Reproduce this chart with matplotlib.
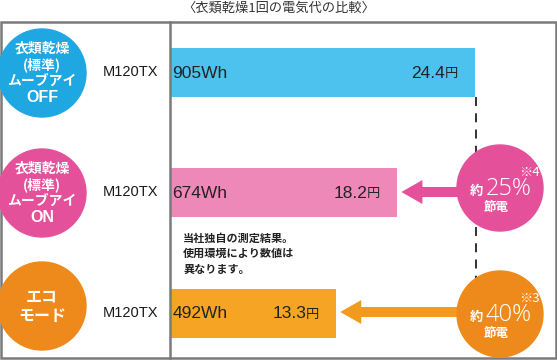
import matplotlib
matplotlib.use("Agg")
import matplotlib.pyplot as plt
import matplotlib.patches as mpatches

# ---- data ----
modes = ["衣類乾燥\n(標準)\nムーブアイ\nOFF", "衣類乾燥\n(標準)\nムーブアイ\nON", "エコ\nモード"]
model = ["M120TX", "M120TX", "M120TX"]
energy_wh = [905, 674, 492]
cost_yen = [24.4, 18.2, 13.3]
savings = ["25%", "40%"]
notes = ["※4", "※3"]
title = "〈衣類乾燥1回の電気代の比較〉"
footnote = ["当社独自の測定結果。", "使用環境により数値は", "異なります。"]

circle_cols = ["#1EA7E1", "#E4519A", "#EE8A1B"]
bar_cols = ["#4EC2EF", "#EE88B8", "#F5A424"]
arrow_cols = ["#E4519A", "#F29A1E"]

JP = ["Noto Sans CJK JP", "DejaVu Sans"]
LAT = ["Liberation Sans", "DejaVu Sans"]

W, H = 557, 360
fig = plt.figure(figsize=(W / 100, H / 100), dpi=100)

# bar axes: x=0 at pixel 171, 905 at pixel 475
x0, x1 = 171, 475
scale = (x1 - x0) / energy_wh[0]
ax = fig.add_axes([x0 / W, 0, (W - x0) / W, 1])
ax.set_xlim(0, (W - x0) / scale)
ax.set_ylim(H, 0)
ax.axis("off")
ax.set_zorder(1)

deco = fig.add_axes([0, 0, 1, 1])
deco.set_xlim(0, W)
deco.set_ylim(H, 0)
deco.axis("off")
deco.set_zorder(2)
deco.patch.set_alpha(0)

rows_y = [72.5, 192.5, 313]
bar_h = 49

# frame
deco.add_patch(mpatches.Rectangle((1, 22), 555, 336, fill=False, ec="#7a7a7a", lw=1.8, zorder=1))
deco.plot([170, 170], [22, 358], color="#7a7a7a", lw=1.8, zorder=1)
deco.text(W / 2, 8, title, ha="center", va="center", fontsize=9.5, family=JP, color="#333333")

bars = ax.barh(rows_y, energy_wh, height=bar_h, left=0, color=bar_cols, zorder=2)

def to_deco(xd, yd):
    px = ax.transData.transform((xd, yd))
    return deco.transData.inverted().transform(px)

for i, (m, mdl, wh, yen) in enumerate(zip(modes, model, energy_wh, cost_yen)):
    y = rows_y[i]
    # left circle
    r = 44
    cy = [73, 193, 306][i]
    deco.add_patch(mpatches.Circle((42, cy), r, color=circle_cols[i], zorder=3))
    lines = m.split("\n")
    nlines = len(lines)
    spacing = 16.5 if nlines > 2 else 19
    for k, ln in enumerate(lines):
        yy = cy + (k - (nlines - 1) / 2) * spacing
        fam = LAT if ln in ("OFF", "ON") else JP
        fs = 11.5 if ln in ("OFF", "ON") else (10 if nlines > 2 else 11.5)
        deco.text(42, yy, ln, ha="center", va="center", color="white",
                  fontsize=fs, family=fam, fontweight="bold", zorder=4)
    deco.text(130, y, mdl, ha="center", va="center", fontsize=10.5, family=LAT,
              color="#1a1a1a", zorder=4)
    # bar labels
    ax.text(1.5 / scale, y + 1, f"{wh}Wh", ha="left", va="center", fontsize=12.5,
            family=LAT, color="#222222", zorder=4)
    endx, _ = to_deco(wh, y)
    deco.text(endx - 17, y + 1.5, "円", ha="right", va="center", fontsize=9.5,
              family=JP, color="#222222", zorder=4)
    deco.text(endx - 30, y + 1, f"{yen}", ha="right", va="center", fontsize=12.5,
              family=LAT, color="#222222", zorder=4)

# dashed reference line
deco.plot([476, 476], [97, 278], color="#222222", lw=1.3, ls=(0, (5, 4)), zorder=1.5)

# footnote
for k, ln in enumerate(footnote):
    deco.text(183, 238 + k * 15.5, ln, ha="left", va="center", fontsize=8,
              family=JP, fontweight="bold", color="#222222", zorder=4)

# savings circles with arrows
for j, idx in enumerate([1, 2]):
    y = [192, 312][j]
    cy = [188, 314][j]
    cx = 500
    endx, _ = to_deco(energy_wh[idx], y)
    tip = endx + 4
    head_len = 21
    deco.add_patch(mpatches.FancyArrow(cx - 10, y, tip - (cx - 10), 0, width=10,
                                       head_width=24, head_length=head_len,
                                       length_includes_head=True, color=arrow_cols[j],
                                       lw=0, zorder=3))
    deco.add_patch(mpatches.Circle((cx, cy), 43, color=circle_cols[idx], zorder=3))
    deco.text(519, cy - 16, notes[j], ha="left", va="center", fontsize=9.5,
              family=JP, color="white", zorder=4)
    deco.text(476, cy + 3, "約", ha="center", va="center", fontsize=9.5,
              family=JP, color="white", fontweight="bold", zorder=4)
    deco.text(509, cy + 1, savings[j], ha="center", va="center", fontsize=17,
              family=["Open Sans", "DejaVu Sans"], fontweight="light", color="white", zorder=4)
    deco.text(496, cy + 20, "節電", ha="center", va="center", fontsize=9,
              family=JP, color="white", fontweight="bold", zorder=4)

fig.savefig("out.png", dpi=100)
